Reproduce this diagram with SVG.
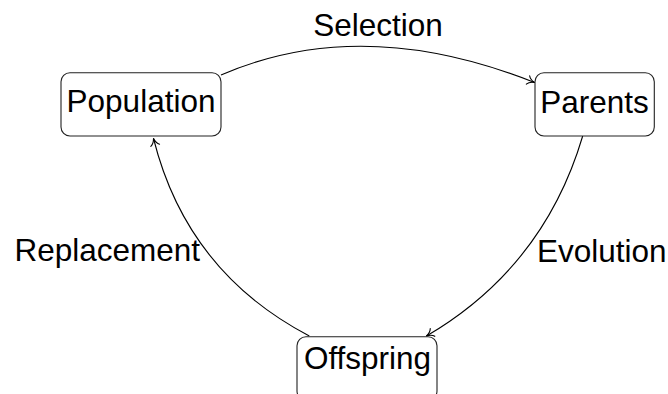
<svg xmlns="http://www.w3.org/2000/svg" width="668" height="394" viewBox="0 0 668 394">
<style>
.box{fill:#fff;stroke:#222;stroke-width:1.1}
.lbl{font-family:"Liberation Sans",Arial,sans-serif;font-size:31.5px;fill:#000}
.edge{fill:none;stroke:#000;stroke-width:1.1}
</style>
<defs>
<marker id="arr" markerUnits="userSpaceOnUse" markerWidth="12" markerHeight="12" viewBox="-8 -6 10 12" refX="0" refY="0" orient="auto" overflow="visible">
<path d="M-7,-4.5 C-5.5,-1.8 -2.5,-0.6 0,0 C-2.5,0.6 -5.5,1.8 -7,4.5" fill="none" stroke="#000" stroke-width="1.1" stroke-linecap="round" stroke-linejoin="round"/>
</marker>
</defs>
<g id="connectors">
<g id="e-selection">
<path class="edge" d="M221,75 Q362,14 534.5,82.5" marker-end="url(#arr)"/>
<text class="lbl" x="378" y="36" text-anchor="middle">Selection</text>
</g>
<g id="e-evolution">
<path class="edge" d="M582.7,136 Q544,267 426.5,336" marker-end="url(#arr)"/>
<text class="lbl" x="537" y="262">Evolution</text>
</g>
<g id="e-replacement">
<path class="edge" d="M309.3,336 Q187,272 153.5,138.5" marker-end="url(#arr)"/>
<text class="lbl" x="200" y="261" text-anchor="end">Replacement</text>
</g>
</g>
<g id="population">
<rect class="box" x="61" y="72.7" width="160" height="63.3" rx="9"/>
<text class="lbl" x="141" y="112" text-anchor="middle">Population</text>
</g>
<g id="parents">
<rect class="box" x="535" y="72.7" width="119.3" height="63.3" rx="9"/>
<text class="lbl" x="594.5" y="113" text-anchor="middle">Parents</text>
</g>
<g id="offspring">
<rect class="box" x="297" y="336.7" width="140" height="63.3" rx="9"/>
<text class="lbl" x="367.5" y="368.5" text-anchor="middle">Offspring</text>
</g>
</svg>
